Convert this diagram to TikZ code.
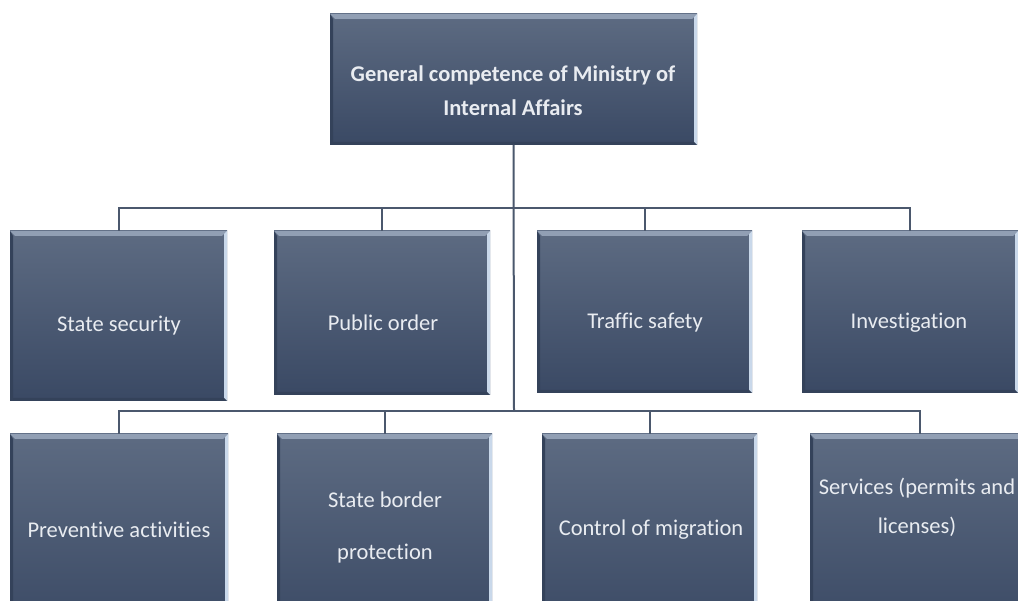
\documentclass[tikz,border=0pt]{standalone}
\usepackage{fontspec}
\setmainfont[Ligatures=NoCommon]{Carlito}
\usetikzlibrary{calc}
\definecolor{boxtop}{HTML}{5D6B82}
\definecolor{boxbot}{HTML}{3A4964}
\definecolor{bevlight}{HTML}{919FB4}
\definecolor{edgelight}{HTML}{C9D8EA}
\definecolor{edgedark}{HTML}{34425A}
\definecolor{linkcol}{HTML}{4B586D}
\definecolor{labelcol}{HTML}{E9ECF1}
\tikzset{
  unitbox/.style={rectangle, anchor=north west, inner sep=0pt, outer sep=0pt,
    top color=boxtop, bottom color=boxbot,
    path picture={
      \fill[bevlight] (path picture bounding box.north west) -- (path picture bounding box.north east)
        -- ([xshift=-5pt,yshift=-5pt]path picture bounding box.north east)
        -- ([xshift=5pt,yshift=-5pt]path picture bounding box.north west) -- cycle;
      \fill[edgelight] (path picture bounding box.north east) -- (path picture bounding box.south east)
        -- ([xshift=-3pt]path picture bounding box.south east)
        -- ([xshift=-3pt,yshift=-3pt]path picture bounding box.north east) -- cycle;
      \fill[edgedark] (path picture bounding box.north west) -- (path picture bounding box.south west)
        -- ([xshift=3pt]path picture bounding box.south west)
        -- ([xshift=3pt,yshift=-5pt]path picture bounding box.north west) -- cycle;
      \fill[edgedark] (path picture bounding box.south west) -- (path picture bounding box.south east)
        -- ([xshift=-3pt,yshift=3pt]path picture bounding box.south east)
        -- ([xshift=3pt,yshift=3pt]path picture bounding box.south west) -- cycle;
    }},
  unitlabel/.style={text=labelcol, font=\fontsize{22.5}{22.5}\selectfont, align=center, inner sep=0pt},
  link/.style={draw=linkcol, line width=2pt}
}
\begin{document}
\begin{tikzpicture}[x=1pt, y=-1pt]
\useasboundingbox[fill=white] (0,0) rectangle (1018,601);

% head unit
\node[unitbox, minimum width=367pt, minimum height=131pt] (head) at (330,14) {};

% first row of competences
\node[unitbox, minimum width=217pt, minimum height=170pt] (b1) at (10,231) {};
\node[unitbox, minimum width=216pt, minimum height=164pt] (b2) at (274,231) {};
\node[unitbox, minimum width=215pt, minimum height=162pt] (b3) at (537,231) {};
\node[unitbox, minimum width=216pt, minimum height=162pt] (b4) at (802,231) {};

% second row of competences (runs past the lower edge)
\node[unitbox, minimum width=218pt, minimum height=200pt] (c1) at (10,434) {};
\node[unitbox, minimum width=215pt, minimum height=200pt] (c2) at (277,434) {};
\node[unitbox, minimum width=215pt, minimum height=200pt] (c3) at (542,434) {};
\node[unitbox, minimum width=220pt, minimum height=200pt] (c4) at (810,434) {};

% bus coordinates
\coordinate (busA) at (514,208);
\coordinate (busB) at (514,411);

% connectors
\draw[link] (head.south) -- (busB);
\draw[link] (b1.north) |- (busA) -| (b4.north);
\draw[link] (b2.north) |- (busA);
\draw[link] (b3.north) |- (busA);
\draw[link] (c1.north) |- (busB) -| (c4.north);
\draw[link] (c2.north) |- (busB);
\draw[link] (c3.north) |- (busB);

% labels
\node[unitlabel, font=\fontsize{22.5}{34}\selectfont\bfseries] (thead) at (513,91)
  {General competence of Ministry of\\Internal Affairs};
\node[unitlabel] (tb1) at (119,326) {State security};
\node[unitlabel] (tb2) at (383,323) {Public order};
\node[unitlabel] (tb3) at (645,323) {Traffic safety};
\node[unitlabel] (tb4) at (909,323) {Investigation};
\node[unitlabel] (tc1) at (119,530) {Preventive activities};
\node[unitlabel, font=\fontsize{22.5}{52}\selectfont] (tc2) at (385,528) {State border\\protection};
\node[unitlabel] (tc3) at (651,530) {Control of migration};
\node[unitlabel, font=\fontsize{22.5}{39}\selectfont] (tc4) at (917,507) {Services (permits and\\licenses)};
\end{tikzpicture}
\end{document}
